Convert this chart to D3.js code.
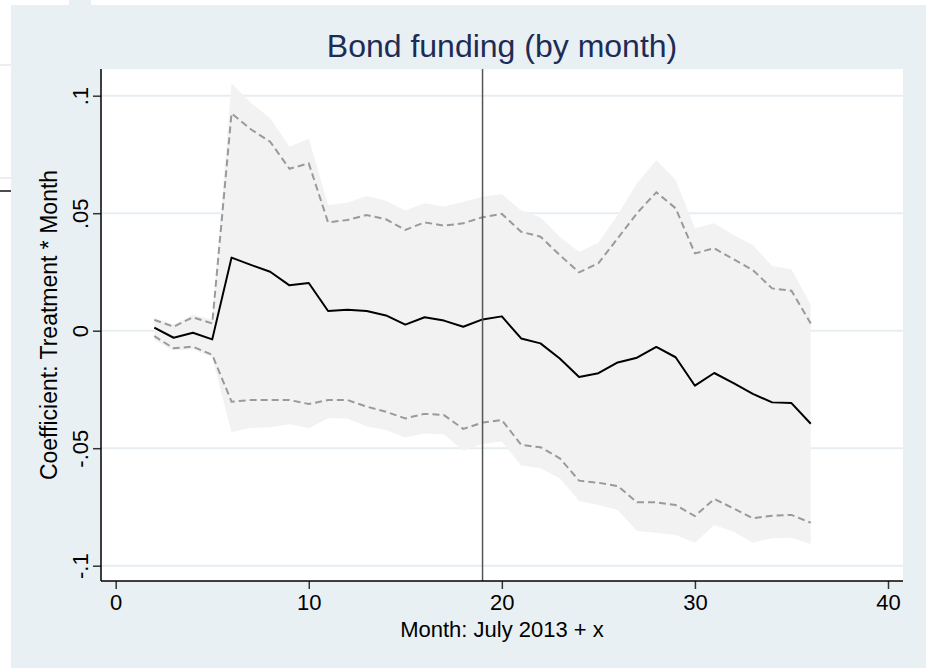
<!DOCTYPE html>
<html>
<head>
<meta charset="utf-8">
<script src="https://cdn.jsdelivr.net/npm/d3@7"></script>
<style>
  html, body { margin: 0; padding: 0; background: #ffffff; }
  svg { display: block; font-family: "Liberation Sans", Arial, Helvetica, sans-serif; }
</style>
</head>
<body>
<div id="chart"></div>
<script>
// DATA
const months = [2, 3, 4, 5, 6, 7, 8, 9, 10, 11, 12, 13, 14, 15, 16, 17, 18, 19,
  20, 21, 22, 23, 24, 25, 26, 27, 28, 29, 30, 31, 32, 33, 34, 35, 36];
const coef = [0.0013, -0.0030, -0.0009, -0.0037, 0.0311, 0.0280, 0.0251, 0.0193, 0.0203,
  0.0084, 0.0089, 0.0084, 0.0065, 0.0026, 0.0057, 0.0043, 0.0017, 0.0048, 0.0061,
  -0.0033, -0.0054, -0.0118, -0.0197, -0.0181, -0.0135, -0.0115, -0.0069, -0.0113,
  -0.0234, -0.0180, -0.0223, -0.0269, -0.0305, -0.0308, -0.0396];
// dashed band
const dashHi = [0.0046, 0.0017, 0.0057, 0.0031, 0.0925, 0.0857, 0.0804, 0.0689, 0.0712,
  0.0461, 0.0471, 0.0492, 0.0474, 0.0429, 0.0461, 0.0447, 0.0457, 0.0483, 0.0497,
  0.0421, 0.0400, 0.0322, 0.0248, 0.0287, 0.0393, 0.0500, 0.0589, 0.0521,
  0.0329, 0.0351, 0.0304, 0.0258, 0.0180, 0.0170, 0.0031];
const dashLo = [-0.0023, -0.0075, -0.0068, -0.0103, -0.0302, -0.0295, -0.0295, -0.0295, -0.0312,
  -0.0295, -0.0295, -0.0323, -0.0345, -0.0373, -0.0354, -0.0359, -0.0418, -0.0391, -0.0380,
  -0.0486, -0.0496, -0.0543, -0.0638, -0.0647, -0.0661, -0.0730, -0.0730, -0.0742,
  -0.0789, -0.0716, -0.0756, -0.0798, -0.0787, -0.0784, -0.0817];
// shaded band
const shadeHi = [0.0055, 0.0026, 0.0068, 0.0048, 0.1053, 0.0970, 0.0904, 0.0783, 0.0817,
  0.0535, 0.0545, 0.0573, 0.0553, 0.0511, 0.0542, 0.0528, 0.0549, 0.0570, 0.0582,
  0.0511, 0.0483, 0.0400, 0.0336, 0.0374, 0.0492, 0.0627, 0.0726, 0.0641,
  0.0436, 0.0457, 0.0407, 0.0365, 0.0275, 0.0261, 0.0109];
const shadeLo = [-0.0040, -0.0084, -0.0079, -0.0113, -0.0432, -0.0413, -0.0411, -0.0398, -0.0415,
  -0.0373, -0.0374, -0.0408, -0.0423, -0.0454, -0.0437, -0.0441, -0.0511, -0.0482, -0.0472,
  -0.0574, -0.0585, -0.0628, -0.0725, -0.0742, -0.0763, -0.0852, -0.0860, -0.0869,
  -0.0902, -0.0827, -0.0855, -0.0902, -0.0883, -0.0881, -0.0908];

const xTicks = [0, 10, 20, 30, 40];
const yTicks = [0.1, 0.05, 0, -0.05, -0.1];
const yTickLabels = [".1", ".05", "0", "-.05", "-.1"];
const refMonth = 19;

const chartTitle = "Bond funding (by month)";
const xTitle = "Month: July 2013 + x";
const yTitle = "Coefficient: Treatment * Month";

// LAYOUT
const width = 928, height = 668;
const plot = {left: 101, right: 903, top: 69, bottom: 581};
const bgColor = "#e9f0f3";

const svg = d3.select("#chart").append("svg")
  .attr("width", width)
  .attr("height", height);

// graph region
svg.append("rect").attr("x", 11).attr("y", 5)
  .attr("width", 915).attr("height", height - 5).attr("fill", bgColor);
svg.append("rect").attr("x", 69).attr("y", 0)
  .attr("width", 22).attr("height", 5).attr("fill", bgColor);
// leftover edge marks
svg.append("line").attr("x1", 0).attr("x2", 11).attr("y1", 65).attr("y2", 65)
  .attr("stroke", "#e3eaee").attr("stroke-width", 1.5);
svg.append("line").attr("x1", 0).attr("x2", 11).attr("y1", 178).attr("y2", 178)
  .attr("stroke", "#e3eaee").attr("stroke-width", 1.5);
svg.append("line").attr("x1", 0).attr("x2", 11).attr("y1", 191).attr("y2", 191)
  .attr("stroke", "#111").attr("stroke-width", 1.5);

// plot region
svg.append("rect").attr("x", plot.left).attr("y", plot.top)
  .attr("width", plot.right - plot.left).attr("height", plot.bottom - plot.top)
  .attr("fill", "#ffffff");

// SCALES
const x = d3.scaleLinear().domain([0, 40]).range([115.7, 888]);
const y = d3.scaleLinear().domain([-0.1, 0.1]).range([565.7, 95.7]);

// gridlines
svg.append("g").selectAll("line")
  .data(yTicks).enter().append("line")
  .attr("x1", plot.left).attr("x2", plot.right)
  .attr("y1", d => y(d)).attr("y2", d => y(d))
  .attr("stroke", "#e6eef2").attr("stroke-width", 2);

const rows = months.map((m, i) => ({
  m: m, b: coef[i], dh: dashHi[i], dl: dashLo[i], sh: shadeHi[i], sl: shadeLo[i]
}));

// shaded band
svg.append("path")
  .datum(rows)
  .attr("fill", "#f2f2f2")
  .attr("d", d3.area().x(d => x(d.m)).y0(d => y(d.sl)).y1(d => y(d.sh)));

// dashed bounds
["dh", "dl"].forEach(k => {
  svg.append("path")
    .datum(rows)
    .attr("fill", "none")
    .attr("stroke", "#9a9a9a")
    .attr("stroke-width", 2)
    .attr("stroke-dasharray", "7,4")
    .attr("d", d3.line().x(d => x(d.m)).y(d => y(d[k])));
});

// coefficient line
svg.append("path")
  .datum(rows)
  .attr("fill", "none")
  .attr("stroke", "#000")
  .attr("stroke-width", 2)
  .attr("stroke-linejoin", "round")
  .attr("d", d3.line().x(d => x(d.m)).y(d => y(d.b)));

// reference line
svg.append("line")
  .attr("x1", x(refMonth)).attr("x2", x(refMonth))
  .attr("y1", plot.top).attr("y2", plot.bottom)
  .attr("stroke", "#555").attr("stroke-width", 1.5);

// AXES
const xAxis = svg.append("g")
  .attr("transform", "translate(0," + plot.bottom + ")")
  .call(d3.axisBottom(x).tickValues(xTicks).tickSize(8).tickPadding(5).tickSizeOuter(0));
xAxis.select(".domain").remove();
xAxis.append("line").attr("x1", plot.left).attr("x2", plot.right)
  .attr("stroke", "#000").attr("stroke-width", 1.5);
xAxis.selectAll(".tick line").attr("stroke", "#333").attr("stroke-width", 1.5);
xAxis.selectAll(".tick text")
  .attr("font-size", 22).attr("fill", "#000")
  .attr("font-family", "Liberation Sans, Arial, sans-serif");

const yAxis = svg.append("g")
  .attr("transform", "translate(" + plot.left + ",0)")
  .call(d3.axisLeft(y).tickValues(yTicks).tickSize(8)
    .tickFormat((d, i) => yTickLabels[i]).tickSizeOuter(0));
yAxis.select(".domain").remove();
yAxis.append("line").attr("y1", plot.top).attr("y2", plot.bottom)
  .attr("stroke", "#000").attr("stroke-width", 1.5);
yAxis.selectAll(".tick line").attr("stroke", "#333").attr("stroke-width", 1.5);
yAxis.selectAll(".tick text")
  .attr("font-size", 22).attr("fill", "#000")
  .attr("font-family", "Liberation Sans, Arial, sans-serif")
  .attr("x", null).attr("dy", null)
  .attr("text-anchor", "middle")
  .attr("transform", "translate(-13,0) rotate(-90)");

// TITLES
svg.append("text")
  .attr("x", (plot.left + plot.right) / 2).attr("y", 57)
  .attr("text-anchor", "middle")
  .attr("font-size", 32).attr("fill", "#1e2c55")
  .text(chartTitle);

svg.append("text")
  .attr("x", (plot.left + plot.right) / 2).attr("y", 637)
  .attr("text-anchor", "middle")
  .attr("font-size", 22).attr("fill", "#000")
  .text(xTitle);

svg.append("text")
  .attr("transform", "translate(57," + ((plot.top + plot.bottom) / 2) + ") rotate(-90)")
  .attr("text-anchor", "middle")
  .attr("font-size", 23).attr("fill", "#000")
  .text(yTitle);
</script>
</body>
</html>
